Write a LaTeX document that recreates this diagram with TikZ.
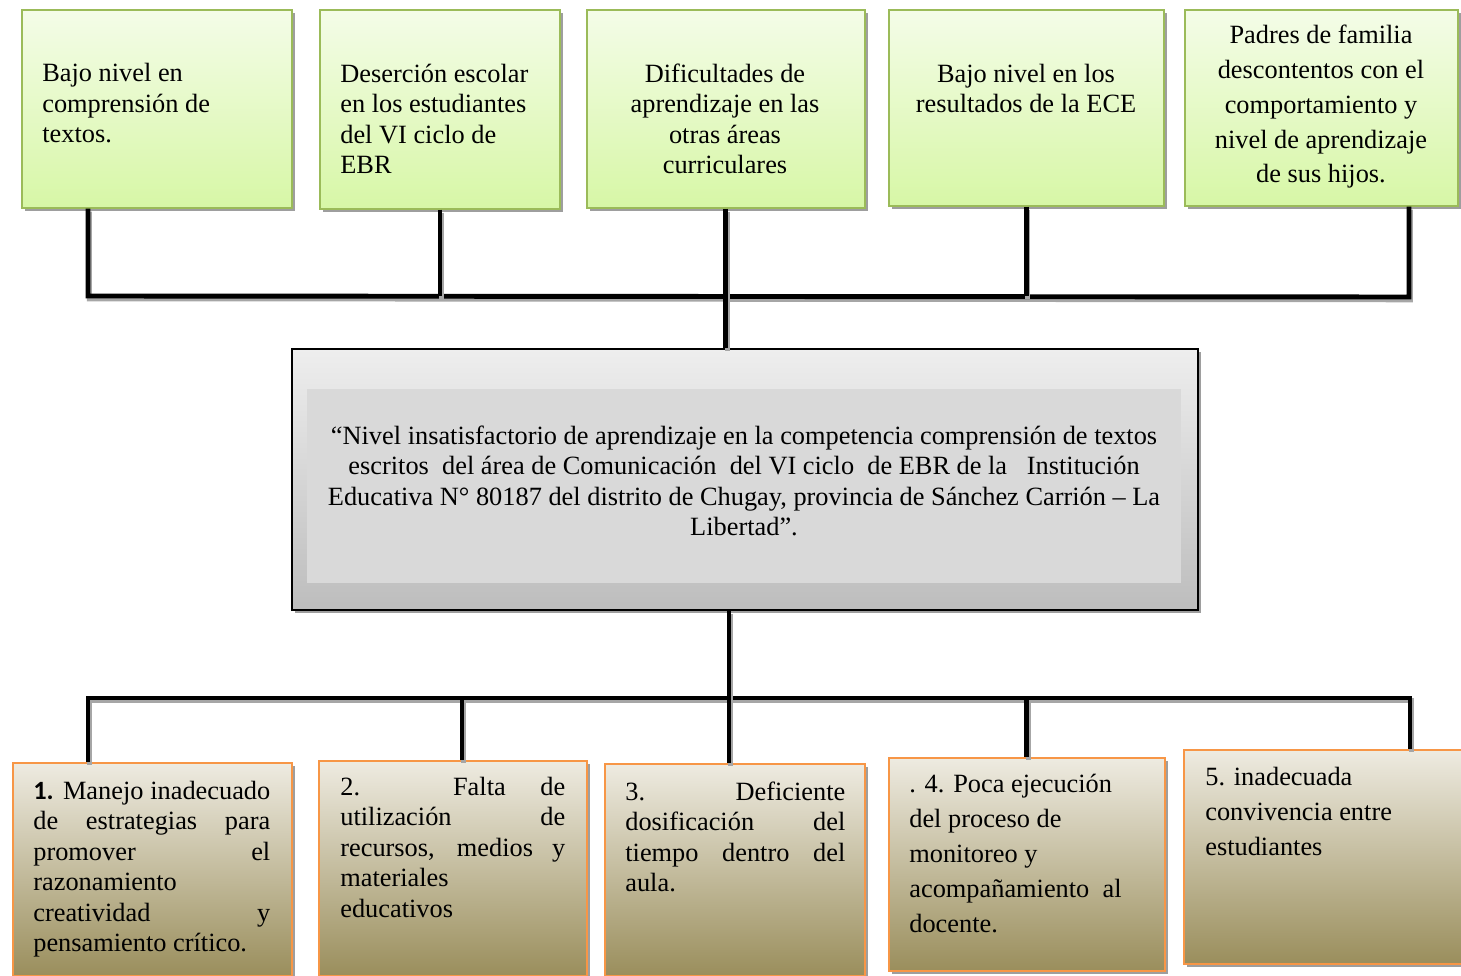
\documentclass[tikz,border=0pt]{standalone}
\usepackage{fontspec}
\setmainfont{Liberation Serif}
\newfontfamily\calibri{Carlito}
\usepackage{tikz}
\usetikzlibrary{shadows}

\definecolor{effectTop}{HTML}{F4FCE8}
\definecolor{effectBottom}{HTML}{D7F7A6}
\definecolor{effectLine}{HTML}{9BBB59}
\definecolor{causeTop}{HTML}{EEEBE1}
\definecolor{causeBottom}{HTML}{9A8E5C}
\definecolor{causeLine}{HTML}{F79646}
\definecolor{problemTop}{HTML}{EEEEEE}
\definecolor{problemBottom}{HTML}{BDBDBD}
\definecolor{problemInner}{HTML}{D9D9D9}

\tikzstyle{effect} = [rectangle, anchor=north west, inner sep=0pt, draw=effectLine, line width=1pt, top color=effectTop, bottom color=effectBottom, drop shadow={shadow xshift=1.6pt, shadow yshift=-1.6pt, fill=black!38, opacity=1}]
\tikzstyle{cause} = [rectangle, anchor=north west, inner sep=0pt, draw=causeLine, line width=1pt, top color=causeTop, bottom color=causeBottom, drop shadow={shadow xshift=1.6pt, shadow yshift=-1.6pt, fill=black!38, opacity=1}]
\tikzstyle{problem} = [rectangle, anchor=north west, inner sep=0pt, draw=black, line width=1pt, top color=problemTop, bottom color=problemBottom, drop shadow={shadow xshift=1.6pt, shadow yshift=-1.6pt, fill=black!38, opacity=1}]
\tikzstyle{txt} = [inner sep=0pt, font=\fontsize{15}{17.4}\selectfont]
\tikzstyle{txtloose} = [inner sep=0pt, font=\fontsize{15}{19.9}\selectfont]
\tikzstyle{link} = [line width=2.8pt, black, preaction={draw=black!35, line width=2.8pt, transform canvas={shift={(0.8pt,-1.6pt)}}}]

\begin{document}
\begin{tikzpicture}[x=0.02cm, y=-0.02cm]
	\useasboundingbox (0,0) rectangle (1461,976);

	% effects
	\node (top1) [effect, minimum width=5.40cm, minimum height=3.96cm] at (21,9) {};
	\node (top2) [effect, minimum width=4.80cm, minimum height=3.98cm] at (319,9) {};
	\node (top3) [effect, minimum width=5.56cm, minimum height=3.96cm] at (586,9) {};
	\node (top4) [effect, minimum width=5.50cm, minimum height=3.92cm] at (888,9) {};
	\node (top5) [effect, minimum width=5.46cm, minimum height=3.92cm] at (1184,9) {};

	% text nodes sit on the baseline of their last line
	\node (top1txt) [txt, anchor=base west, align=left] at (42,143) {Bajo nivel en\\ comprensión de\\ textos.};
	\node (top2txt) [txt, anchor=base west, align=left] at (340,174) {Deserción escolar\\ en los estudiantes\\ del VI ciclo de\\ EBR};
	\node (top3txt) [txt, anchor=base, align=center] at (725,174) {Dificultades de\\ aprendizaje en las\\ otras áreas\\ curriculares};
	\node (top4txt) [txt, anchor=base, align=center] at (1026,113) {Bajo nivel en los\\ resultados de la ECE};
	\node (top5txt) [txtloose, anchor=base, align=center] at (1321,183) {Padres de familia\\ descontentos con el\\ comportamiento y\\ nivel de aprendizaje\\ de sus hijos.};

	% central problem
	\node (center) [problem, minimum width=18.12cm, minimum height=5.22cm] at (291,348) {};
	\node (inner) [rectangle, anchor=north west, inner sep=0pt, fill=problemInner, minimum width=17.48cm, minimum height=3.88cm] at (307,389) {};
	\node (centertxt) [txt, anchor=base, align=center] at (744,536) {“Nivel insatisfactorio de aprendizaje en la competencia comprensión de textos\\ escritos \ del área de Comunicación \ del VI ciclo \ de EBR de la \ \ Institución\\ Educativa N° 80187 del distrito de Chugay, provincia de Sánchez Carrión – La\\ Libertad”.};

	% causes
	\node (bot1) [cause, minimum width=5.58cm, minimum height=4.26cm] at (12,762) {};
	\node (bot2) [cause, minimum width=5.36cm, minimum height=4.30cm] at (318,760) {};
	\node (bot3) [cause, minimum width=5.20cm, minimum height=4.24cm] at (604,763) {};
	\node (bot4) [cause, minimum width=5.52cm, minimum height=4.26cm] at (888,757) {};
	\node (bot5) [cause, minimum width=5.80cm, minimum height=4.28cm] at (1183,749) {};

	% justified ones sit on their first line
	\node (bot1txt) [txt, anchor=base west, text width=4.74cm, align=justify] at (33,799) {{\calibri\bfseries 1.} Manejo inadecuado\linebreak de estrategias para\linebreak promover el\linebreak razonamiento\\ creatividad y\linebreak pensamiento crítico.};
	\node (bot2txt) [txt, anchor=base west, text width=4.50cm, align=justify] at (340,795) {2. Falta de\linebreak utilización de\linebreak recursos, medios y\linebreak materiales\\ educativos};
	\node (bot3txt) [txt, anchor=base west, text width=4.40cm, align=justify] at (625,800) {3. Deficiente\linebreak dosificación del\linebreak tiempo dentro del\linebreak aula.};
	\node (bot4txt) [txtloose, anchor=base west, align=left] at (909,932) {. 4. Poca ejecución\\ del proceso de\\ monitoreo y\\ acompañamiento \ al\\ docente.};
	\node (bot5txt) [txtloose, anchor=base west, align=left] at (1205,855) {5. inadecuada\\ convivencia entre\\ estudiantes};

	% upper bus
	\coordinate (busL) at (88,296);
	\coordinate (busR) at (1409,297);
	\coordinate (bus2) at (440,296);
	\draw [link] (top1.south -| busL) -- (busL) -- (busR) -- (top5.south -| busR);
	\draw [link] (top2.south -| bus2) -- (bus2);
	\draw [link] (top4.south) -- (top4.south |- busL);
	\draw [link] (top3.south) -- (top3.south |- center.north);

	% lower bus
	\coordinate (lowL) at (88,698);
	\coordinate (lowR) at (1410,698);
	\coordinate (low2) at (462,698);
	\coordinate (stem) at (729,698);
	\draw [link] (lowL |- bot1.north) -- (lowL) -- (lowR) -- (lowR |- bot5.north);
	\draw [link] (stem |- center.south) -- (stem |- bot3.north);
	\draw [link] (low2) -- (low2 |- bot2.north);
	\draw [link] (lowL -| bot4.north) -- (bot4.north);
\end{tikzpicture}
\end{document}
